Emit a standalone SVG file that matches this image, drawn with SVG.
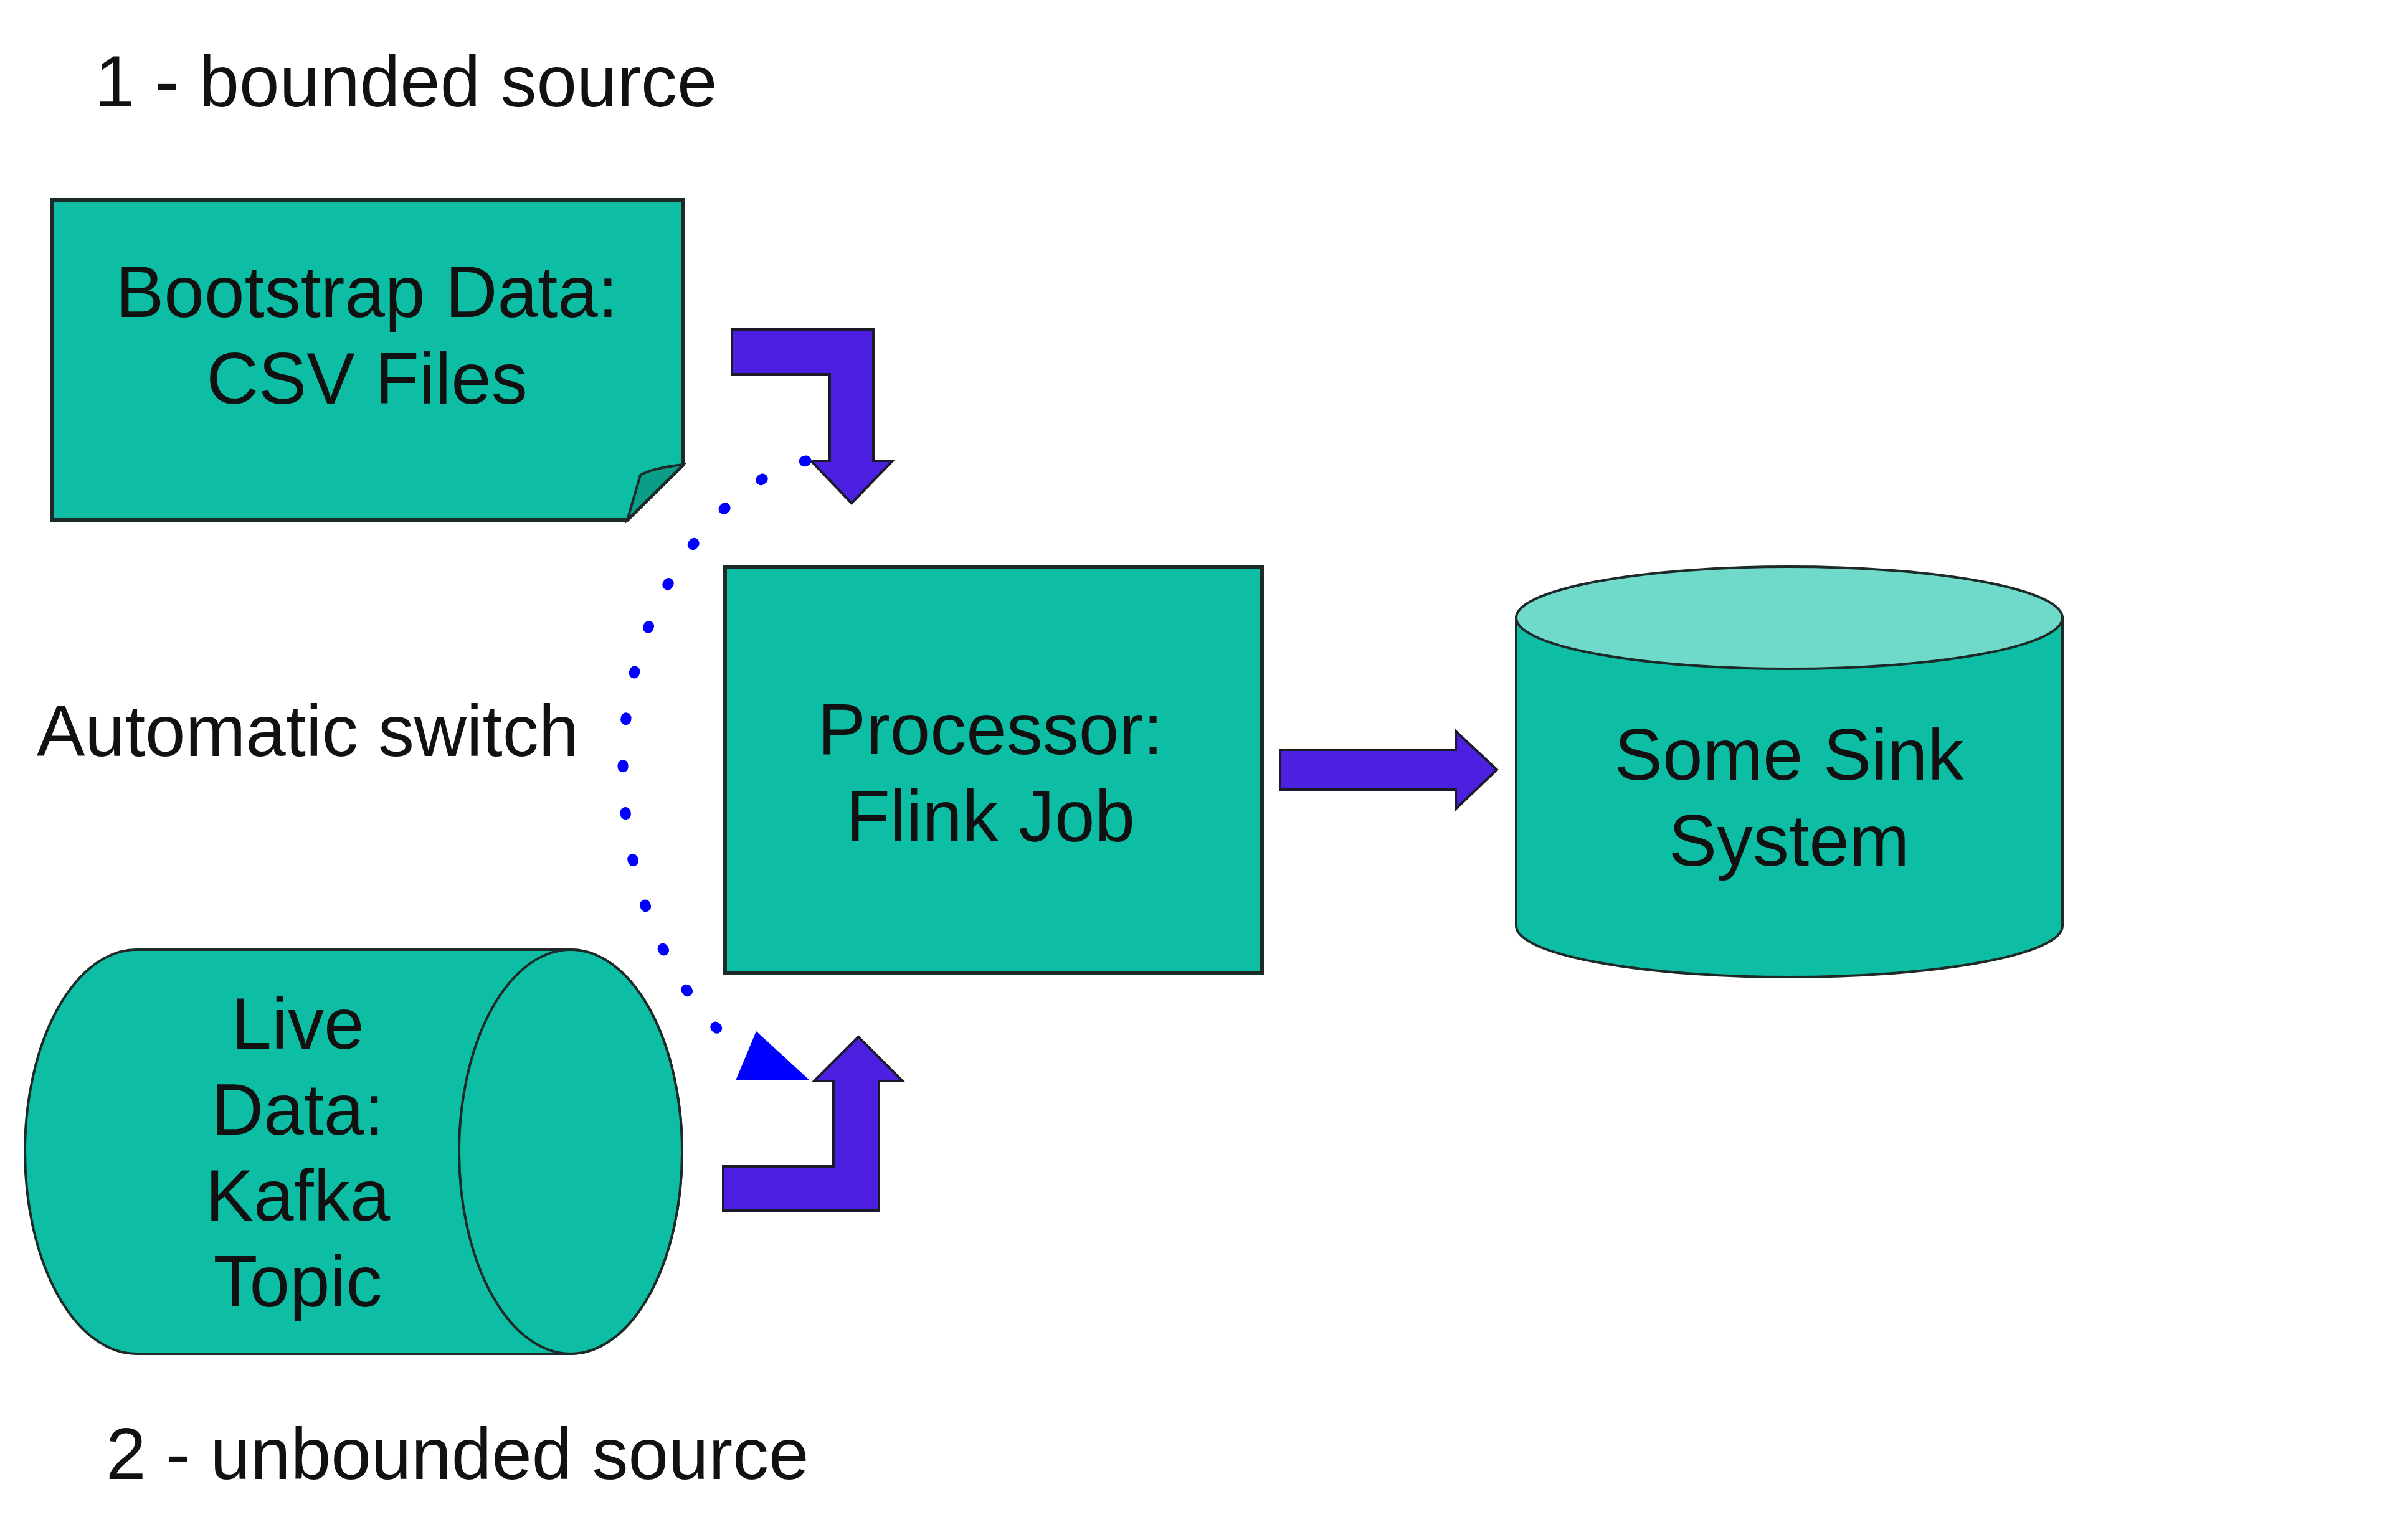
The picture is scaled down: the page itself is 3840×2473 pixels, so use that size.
<svg xmlns="http://www.w3.org/2000/svg" width="3840" height="2473" viewBox="0 0 3840 2473">
<style>
  text { font-family: "Liberation Sans", Arial, sans-serif; font-size: 116px; fill: #111; }
  .c { text-anchor: middle; }
  .node { fill: #0dbea5; stroke: #1e2a28; stroke-width: 6; stroke-linejoin: miter; }
  .thin { fill: #0dbea5; stroke: #1e2a28; stroke-width: 4; }
  .top { fill: #6fdac9; stroke: #1e2a28; stroke-width: 4; }
  .fat { fill: #4d1fe0; stroke: #1a1a2a; stroke-width: 4; stroke-linejoin: miter; }
  .dots { fill: none; stroke: #0000ff; stroke-width: 17; stroke-linecap: round; stroke-dasharray: 3 73; }
</style>
<rect width="3840" height="2473" fill="#ffffff"/>

<text id="label-bounded" x="152" y="171">1 - bounded source</text>
<text id="label-switch" x="59" y="1214">Automatic switch</text>
<text id="label-unbounded" x="170" y="2375">2 - unbounded source</text>

<g id="bootstrap">
  <path class="node" d="M84,321 H1097 V746 L1007,835 H84 Z"/>
  <path d="M1097,746 Q1045,752 1028,763 L1007,835 Z" fill="#0a9e88" stroke="#1e2a28" stroke-width="4"/>
  <text class="c" x="589" y="509">Bootstrap Data:</text>
  <text class="c" x="589" y="648">CSV Files</text>
</g>

<g id="processor">
  <rect class="node" x="1164" y="911" width="862" height="652"/>
  <text class="c" x="1590" y="1211">Processor:</text>
  <text class="c" x="1590" y="1351">Flink Job</text>
</g>

<g id="sink">
  <path class="thin" d="M2434,992 V1487 A438.5,82 0 0 0 3311,1487 V992 Z"/>
  <ellipse class="top" cx="2872.5" cy="992" rx="438.5" ry="82"/>
  <text class="c" x="2872" y="1252">Some Sink</text>
  <text class="c" x="2872" y="1390">System</text>
</g>

<g id="kafka">
  <path class="thin" d="M219,1525 H916 A179,324.5 0 0 1 916,2174 H219 A179,324.5 0 0 1 219,1525 Z"/>
  <ellipse class="thin" cx="916" cy="1849.5" rx="179" ry="324.5"/>
  <text class="c" x="478" y="1684">Live</text>
  <text class="c" x="478" y="1822">Data:</text>
  <text class="c" x="478" y="1960">Kafka</text>
  <text class="c" x="478" y="2098">Topic</text>
</g>

<g id="connectors">
  <path id="arrow-bootstrap" class="fat" d="M1175,529 H1402 V740 H1433 L1367,808 L1302,740 H1332 V601 H1175 Z"/>
  <path id="arrow-kafka" class="fat" d="M1161,1873 H1338 V1736 H1307 L1378,1665 L1449,1736 H1411 V1944 H1161 Z"/>
  <path id="arrow-sink" class="fat" d="M2055,1204 H2337 V1174 L2403,1236 L2337,1299 V1268 H2055 Z"/>
  <g id="switch">
    <path class="dots" d="M1294,740 C1160,770 1005,960 1000,1224 C1000,1420 1070,1590 1197,1695"/>
    <polygon points="1181,1735 1214,1656 1300,1735" fill="#0000ff"/>
  </g>
</g>
</svg>
